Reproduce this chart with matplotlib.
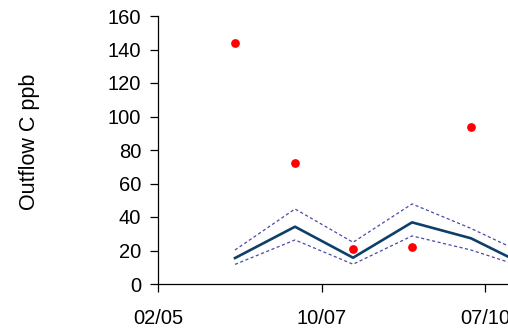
import datetime as dt
import matplotlib
matplotlib.use("Agg")
import matplotlib.pyplot as plt
import matplotlib.dates as mdates

# ------------------ DATA ------------------

sample_dates = [dt.date(2006, 5, 18), dt.date(2007, 5, 20), dt.date(2008, 5, 9),
                dt.date(2009, 5, 5), dt.date(2010, 4, 30), dt.date(2011, 5, 1)]
predicted    = [15.5, 34.2, 15.7, 36.8, 27.3, 9.6]
upper_band   = [20.3, 44.8, 24.9, 47.8, 33.2, 16.3]
lower_band   = [11.7, 26.3, 11.8, 28.7, 20.3, 8.7]

obs_dates    = sample_dates[:5]
observed     = [144, 72, 21, 22, 94]

x_start      = dt.date(2005, 2, 1)
tick_dates   = [x_start + dt.timedelta(days=1000 * i) for i in range(4)]
y_ticks      = list(range(0, 161, 20))

# ------------------ PLOT ------------------

plt.rcParams["font.family"] = ["Liberation Sans", "DejaVu Sans"]

W, H, DPI = 508, 331, 100
fig = plt.figure(figsize=(W / DPI, H / DPI), dpi=DPI)
# axis runs past the right edge of the figure, so the last part is cut off
ax = fig.add_axes([158 / W, 47 / H, 490.5 / W, 268 / H])

ax.plot(sample_dates, predicted, color="#0d3f6b", lw=1.9, zorder=3)
ax.plot(sample_dates, upper_band, color="#4a4aa8", lw=0.9, ls=(0, (2.5, 2)), zorder=2)
ax.plot(sample_dates, lower_band, color="#4a4aa8", lw=0.9, ls=(0, (2.5, 2)), zorder=2)
ax.plot(obs_dates, observed, ls="none", marker="o", ms=6.3, color="#ff0000",
        markeredgewidth=0, zorder=4)

ax.set_xlim(x_start, x_start + dt.timedelta(days=3000))
ax.set_ylim(0, 160)
ax.set_xticks(tick_dates)
ax.xaxis.set_major_formatter(mdates.DateFormatter("%m/%y"))
ax.set_yticks(y_ticks)

for side in ("top", "right"):
    ax.spines[side].set_visible(False)
for side in ("left", "bottom"):
    ax.spines[side].set_linewidth(0.9)

ax.tick_params(axis="y", direction="out", length=6, width=0.9, labelsize=14.5, pad=6)
ax.tick_params(axis="x", direction="out", length=6, width=0.9, labelsize=14.5, pad=12)
ax.set_ylabel("Outflow C ppb", fontsize=15.5, va="center")
ax.yaxis.set_label_coords(-0.262, 0.53)

fig.savefig("out.png", dpi=DPI)
